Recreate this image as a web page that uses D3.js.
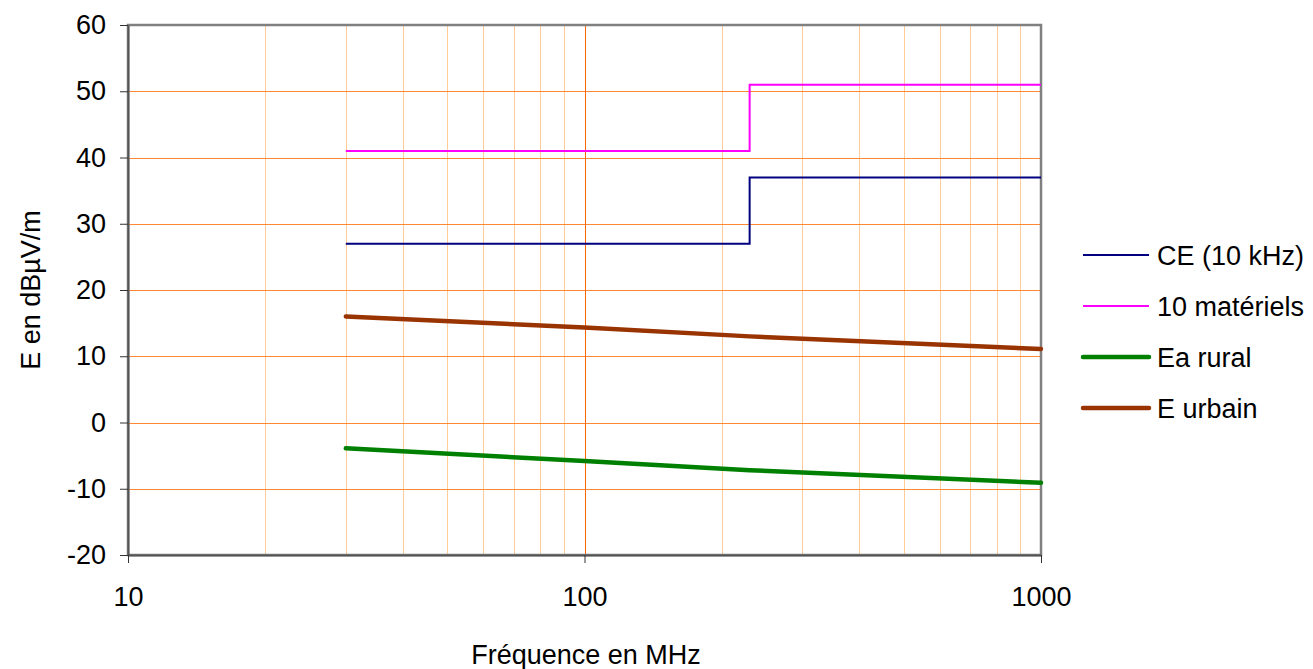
<!DOCTYPE html>
<html>
<head>
<meta charset="utf-8">
<script src="https://cdn.jsdelivr.net/npm/d3@7"></script>
<style>
  body { margin: 0; background: #fff; }
  svg { font-family: "Liberation Sans", Arial, sans-serif; }
</style>
</head>
<body>
<svg id="chart" width="1313" height="669"></svg>
<script>
// data
const stepFreqs = [30, 230, 1000]
const ceValues = [27, 37, 37]
const materielsValues = [41, 51, 51]
const noiseFreqs = [30, 100, 230, 1000]
const ruralValues = [-3.9, -5.8, -7.2, -9.1]
const urbainValues = [16, 14.35, 13.0, 11.1]
const yTicks = [-20, -10, 0, 10, 20, 30, 40, 50, 60]
const xTicks = [10, 100, 1000]
const minorFreqs = [20, 30, 40, 50, 60, 70, 80, 90, 200, 300, 400, 500, 600, 700, 800, 900]

const series = [
	{ name: 'CE (10 kHz)', x: stepFreqs, y: ceValues, color: '#000080', width: 2, step: true },
	{ name: '10 matériels', x: stepFreqs, y: materielsValues, color: '#FF00FF', width: 2, step: true },
	{ name: 'Ea rural', x: noiseFreqs, y: ruralValues, color: '#008000', width: 4.5, step: false },
	{ name: 'E urbain', x: noiseFreqs, y: urbainValues, color: '#993300', width: 4.5, step: false }
]

const fontSize = 27
const margins = { top: 25, right: 272, bottom: 114, left: 128 }
const width = 1313 - margins.left - margins.right
const height = 669 - margins.top - margins.bottom

const x = d3.scaleLog().domain([10, 1000]).range([0, width])
const y = d3.scaleLinear().domain([-20, 60]).range([height, 0])

const svg = d3.select('#chart')
const g = svg.append('g').attr('transform', `translate(${margins.left}, ${margins.top})`)

// minor vertical gridlines
g.append('g').selectAll('line').data(minorFreqs)
	.enter().append('line')
	.attr('x1', d => Math.round(x(d)) + 0.5).attr('x2', d => Math.round(x(d)) + 0.5)
	.attr('y1', 0).attr('y2', height)
	.attr('stroke', '#FFCC99').attr('stroke-width', 1)
	.attr('shape-rendering', 'crispEdges')

// major gridlines
g.append('g').selectAll('line').data(yTicks.slice(1, -1))
	.enter().append('line')
	.attr('x1', 0).attr('x2', width)
	.attr('y1', d => Math.round(y(d)) + 0.5).attr('y2', d => Math.round(y(d)) + 0.5)
	.attr('stroke', '#FF8833').attr('stroke-width', 1)
	.attr('shape-rendering', 'crispEdges')
g.append('line')
	.attr('x1', Math.round(x(100)) + 0.5).attr('x2', Math.round(x(100)) + 0.5)
	.attr('y1', 0).attr('y2', height)
	.attr('stroke', '#FF6600').attr('stroke-width', 1)
	.attr('shape-rendering', 'crispEdges')

// plot border
g.append('rect').attr('x', 0).attr('y', 0).attr('width', width).attr('height', height)
	.attr('fill', 'none').attr('stroke', '#808080').attr('stroke-width', 2.5)

// axes
const yAxis = g.append('g')
	.call(d3.axisLeft(y).tickValues(yTicks).tickFormat(d => String(d)).tickSize(8).tickSizeOuter(0).tickPadding(14))
const xAxis = g.append('g').attr('transform', `translate(0, ${height})`)
	.call(d3.axisBottom(x).tickValues(xTicks).tickFormat(d => String(d)).tickSize(8).tickSizeOuter(0).tickPadding(24))
for (const a of [yAxis, xAxis]) {
	a.select('.domain').attr('stroke', '#555').attr('stroke-width', 2)
	a.selectAll('.tick line').attr('stroke', '#333')
	a.selectAll('.tick text').attr('font-size', fontSize).attr('fill', '#000')
}

// lines
const line = (s) => d3.line()
	.x((d, i) => x(s.x[i]))
	.y(d => y(d))
	.curve(s.step ? d3.curveStepAfter : d3.curveLinear)

g.selectAll('.series').data(series)
	.enter().append('path')
	.attr('class', 'series')
	.attr('fill', 'none')
	.attr('stroke', d => d.color)
	.attr('stroke-width', d => d.width)
	.attr('stroke-linecap', d => d.step ? 'butt' : 'round')
	.attr('d', d => line(d)(d.y))

// axis titles
svg.append('text')
	.attr('x', 586).attr('y', 664)
	.attr('text-anchor', 'middle').attr('font-size', fontSize)
	.text('Fréquence en MHz')
svg.append('text')
	.attr('transform', 'translate(40, 290) rotate(-90)')
	.attr('text-anchor', 'middle').attr('font-size', fontSize)
	.text('E en dBµV/m')

// legend
const legend = svg.append('g').attr('transform', 'translate(1083, 255)')
const rows = legend.selectAll('g').data(series)
	.enter().append('g')
	.attr('transform', (d, i) => `translate(0, ${i * 51})`)
rows.append('line')
	.attr('x1', 0).attr('x2', 66).attr('y1', 0).attr('y2', 0)
	.attr('stroke', d => d.color)
	.attr('stroke-width', d => d.step ? 2 : 4.5)
	.attr('stroke-linecap', d => d.step ? 'butt' : 'round')
rows.append('text')
	.attr('x', 74).attr('y', 10)
	.attr('font-size', fontSize)
	.text(d => d.name)
</script>
</body>
</html>
